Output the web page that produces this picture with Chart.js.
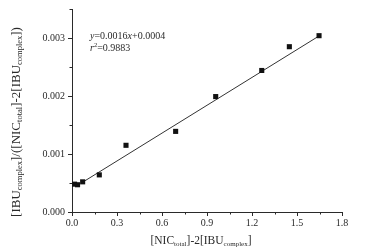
<!DOCTYPE html>
<html>
<head>
<meta charset="utf-8">
<script src="https://cdn.jsdelivr.net/npm/chart.js@4.4.1/dist/chart.umd.min.js"></script>
<style>
html,body{margin:0;padding:0;background:#fff;}
#wrap{width:366px;height:251px;position:relative;}
</style>
</head>
<body>
<div id="wrap"><canvas id="c" width="366" height="251"></canvas></div>
<script>
// Data
const xValues = [0.017, 0.037, 0.071, 0.182, 0.36, 0.691, 0.958, 1.265, 1.449, 1.647];
const yValues = [0.00048, 0.00047, 0.00052, 0.00064, 0.00115, 0.00139, 0.00199, 0.00244, 0.00285, 0.00304];
const fitSlope = 0.0016;
const fitIntercept = 0.0004;
const fitRange = [0.065, 1.655];
const xTickLabels = ['0.0','0.3','0.6','0.9','1.2','1.5','1.8'];
const yTickLabels = ['0.000','0.001','0.002','0.003'];

const SERIF = '"Liberation Serif", "DejaVu Serif", serif';
const INK = '#2a2a2a';

const scatterData = xValues.map((x, i) => ({x, y: yValues[i]}));
const fitData = fitRange.map(x => ({x, y: fitSlope * x + fitIntercept}));

function drawRich(ctx, segs, cx, cy, rotate) {
  ctx.save();
  ctx.translate(cx, cy);
  if (rotate) ctx.rotate(-Math.PI / 2);
  let total = 0;
  segs.forEach(s => {
    ctx.font = (s.italic ? 'italic ' : '') + s.size + 'px ' + SERIF;
    s.w = ctx.measureText(s.t).width;
    total += s.w;
  });
  let x = -total / 2;
  ctx.fillStyle = INK;
  ctx.textBaseline = 'alphabetic';
  segs.forEach(s => {
    ctx.font = (s.italic ? 'italic ' : '') + s.size + 'px ' + SERIF;
    ctx.fillText(s.t, x, s.dy || 0);
    x += s.w;
  });
  ctx.restore();
}
function drawRichLeft(ctx, segs, lx, by) {
  ctx.save();
  let x = lx;
  ctx.fillStyle = INK;
  ctx.textBaseline = 'alphabetic';
  segs.forEach(s => {
    ctx.font = (s.italic ? 'italic ' : '') + s.size + 'px ' + SERIF;
    ctx.fillText(s.t, x, by + (s.dy || 0));
    x += ctx.measureText(s.t).width;
  });
  ctx.restore();
}

const xTitle = [
  {t:'[NIC', size:11.5}, {t:'total', size:7, dy:2}, {t:']-2[IBU', size:11.5}, {t:'complex', size:7, dy:2}, {t:']', size:11.5}
];
const YM = 13, YS = 8.5;
const yTitle = [
  {t:'[IBU', size:YM}, {t:'complex', size:YS, dy:2.5}, {t:']/([NIC', size:YM}, {t:'total', size:YS, dy:2.5},
  {t:']-2[IBU', size:YM}, {t:'complex', size:YS, dy:2.5}, {t:'])', size:YM}
];

const extrasPlugin = {
  id: 'extras',
  afterDraw(chart) {
    const ctx = chart.ctx;
    const xs = chart.scales.x, ys = chart.scales.y;
    // minor ticks
    ctx.save();
    ctx.strokeStyle = INK;
    ctx.lineWidth = 1;
    ctx.beginPath();
    for (let v = 0.15; v < 1.8; v += 0.3) {
      const px = Math.round(xs.getPixelForValue(v)) + 0.5;
      ctx.moveTo(px, ys.bottom);
      ctx.lineTo(px, ys.bottom + 2.5);
    }
    for (let v = 0.0005; v <= 0.0035 + 1e-9; v += 0.001) {
      const py = Math.round(ys.getPixelForValue(v)) + 0.5;
      ctx.moveTo(xs.left, py);
      ctx.lineTo(xs.left - 2.5, py);
    }
    ctx.stroke();
    ctx.restore();
    // titles
    drawRich(ctx, xTitle, 201, 244, false);
    drawRich(ctx, yTitle, 19.5, 122, true);
    // equation
    drawRichLeft(ctx, [{t:'y', size:10, italic:true}, {t:'=0.0016', size:10}, {t:'x', size:10, italic:true}, {t:'+0.0004', size:10}], 90, 39);
    drawRichLeft(ctx, [{t:'r', size:10, italic:true}, {t:'2', size:6.5, dy:-4}, {t:'=0.9883', size:10}], 90, 51);
  }
};

new Chart(document.getElementById('c'), {
  type: 'scatter',
  data: {
    datasets: [
      {
        data: scatterData,
        pointStyle: 'rect',
        pointRadius: 3.6,
        pointHoverRadius: 3.6,
        backgroundColor: '#111',
        borderColor: '#111',
        borderWidth: 0
      },
      {
        type: 'line',
        data: fitData,
        borderColor: '#333',
        borderWidth: 1,
        pointRadius: 0,
        fill: false,
        tension: 0
      }
    ]
  },
  options: {
    responsive: false,
    animation: false,
    events: [],
    layout: { padding: { left: 0, right: 24, top: 7, bottom: 0 } },
    plugins: { legend: { display: false }, tooltip: { enabled: false } },
    scales: {
      x: {
        type: 'linear',
        min: 0, max: 1.8,
        afterFit(scale) { scale.height = 39; },
        afterBuildTicks(scale) { scale.ticks = xTickLabels.map(v => ({value: parseFloat(v)})); },
        ticks: {
          callback: (v, i) => xTickLabels[i],
          font: { family: SERIF, size: 10 },
          color: INK,
          padding: 1,
          maxRotation: 0
        },
        grid: { drawOnChartArea: false, drawTicks: true, tickLength: 4, tickColor: INK },
        border: { display: true, color: INK, width: 1 }
      },
      y: {
        type: 'linear',
        min: 0, max: 0.0035,
        afterFit(scale) { scale.width = 72; },
        afterBuildTicks(scale) { scale.ticks = yTickLabels.map(v => ({value: parseFloat(v)})); },
        ticks: {
          callback: (v, i) => yTickLabels[i],
          font: { family: SERIF, size: 10 },
          color: INK,
          padding: 3
        },
        grid: { drawOnChartArea: false, drawTicks: true, tickLength: 4, tickColor: INK },
        border: { display: true, color: INK, width: 1 }
      }
    }
  },
  plugins: [extrasPlugin]
});
</script>
</body>
</html>
